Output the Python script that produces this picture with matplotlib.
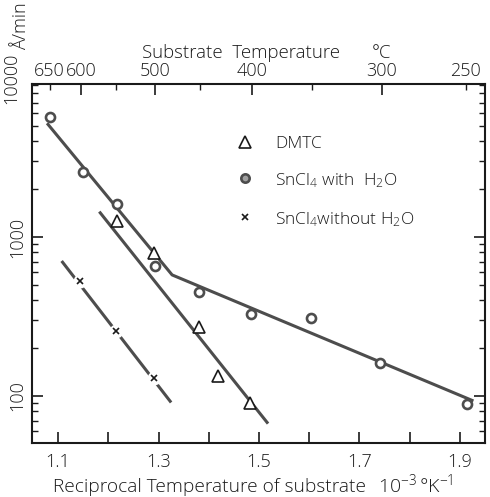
import matplotlib
matplotlib.use("Agg")
import matplotlib.pyplot as plt
import matplotlib.transforms as mtransforms
from matplotlib.ticker import FixedLocator, FixedFormatter, LogLocator, NullFormatter

plt.rcParams["font.family"] = ["Open Sans", "DejaVu Sans"]
plt.rcParams["font.weight"] = "light"
plt.rcParams["mathtext.fontset"] = "custom"
plt.rcParams["mathtext.rm"] = "Open Sans:light"
plt.rcParams["mathtext.it"] = "Open Sans:light:italic"

# ---- measured deposition rates (Å/min) vs 1000/T (K^-1) ----
dmtc_x = [1.217, 1.291, 1.381, 1.419, 1.482]
dmtc_y = [1266, 796, 270, 134, 90]

wet_x = [1.084, 1.149, 1.218, 1.292, 1.381, 1.485, 1.604, 1.741, 1.914]
wet_y = [5720, 2575, 1612, 660, 451, 328, 308, 161, 89]

dry_x = [1.144, 1.216, 1.290]
dry_y = [528, 257, 129]

# ---- fitted lines ----
dmtc_fit_x = [1.182, 1.518]
dmtc_fit_y = [1443, 67]
wet_fit_x = [1.078, 1.327, 1.927]
wet_fit_y = [5190, 577, 93]
dry_fit_x = [1.107, 1.325]
dry_fit_y = [706, 91]

# ---- axis ticks ----
recip_major = [1.1, 1.2, 1.3, 1.4, 1.5, 1.6, 1.7, 1.8, 1.9]
recip_labels = ["1.1", "", "1.3", "", "1.5", "", "1.7", "", "1.9"]
temp_major = [600, 500, 400, 300]
temp_minor = [650, 550, 450, 350, 250]
temp_minor_labels = ["650", "", "", "", "250"]

W, H = 490, 497
FS = 12.5       # legend
FS_TICK = 13
FS_LABEL = 13.6
ink = "#1a1a1a"
line_c = "#4d4d4d"

fig = plt.figure(figsize=(W / 100, H / 100), dpi=100)
ax = fig.add_axes([32 / W, 54 / H, 453 / W, 359 / H])


def recip(t_c):
    return 1000.0 / (t_c + 273.15)


ax.set_yscale("log")
ax.set_xlim(1.048, 1.950)
ax.set_ylim(50.6, 9160)

# fitted lines
ax.plot(wet_fit_x, wet_fit_y, color=line_c, lw=2.2, solid_capstyle="butt", zorder=2)
ax.plot(dmtc_fit_x, dmtc_fit_y, color=line_c, lw=2.2, solid_capstyle="butt", zorder=2)
ax.plot(dry_fit_x, dry_fit_y, color=line_c, lw=2.2, solid_capstyle="butt", zorder=2)

# gaps in the dry-SnCl4 line around its points
ax.plot(dry_x, dry_y, ls="none", marker="o", ms=10, mfc="white", mec="none", zorder=3)

# data points
ax.plot(wet_x, wet_y, ls="none", marker="o", ms=6.5, mfc="white", mec=line_c, mew=1.9, zorder=4)
ax.plot(dmtc_x, dmtc_y, ls="none", marker="^", ms=9, mfc="white", mec=ink, mew=1.2, zorder=4)
ax.plot(dry_x, dry_y, ls="none", marker="x", ms=4, mec=ink, mew=1.2, zorder=4)

# legend entries
legend_rows = [
    ("^", dict(ms=9, mfc="white", mec=ink, mew=1.2), "DMTC", 0.838),
    ("o", dict(ms=6, mfc="#a0a0a0", mec=line_c, mew=1.9), r"SnCl$_4$ with  H$_2$O", 0.738),
    ("x", dict(ms=4, mec=ink, mew=1.2), r"SnCl$_4$without H$_2$O", 0.630),
]
for mk, kw, label, yy in legend_rows:
    ax.plot([0.470], [yy], marker=mk, ls="none", transform=ax.transAxes, clip_on=False, **kw)
    ax.text(0.536, yy, label, transform=ax.transAxes, fontsize=FS, color=ink,
            va="center_baseline", ha="left")

# spines and ticks
for sp in ax.spines.values():
    sp.set_linewidth(1.5)
    sp.set_color(ink)

ax.xaxis.set_major_locator(FixedLocator(recip_major))
ax.xaxis.set_major_formatter(FixedFormatter(recip_labels))
ax.yaxis.set_major_locator(FixedLocator([100, 1000]))
ax.yaxis.set_major_formatter(FixedFormatter(["100", "1000"]))
ax.yaxis.set_minor_locator(LogLocator(base=10, subs=range(2, 10)))
ax.yaxis.set_minor_formatter(NullFormatter())

ax.tick_params(axis="x", which="major", direction="in", length=8, width=1.2,
               labelsize=FS_TICK, pad=7, colors=ink, top=False)
ax.tick_params(axis="y", which="major", direction="in", length=8, width=1.2,
               labelsize=FS_TICK, pad=4, colors=ink, right=True)
ax.tick_params(axis="y", which="minor", direction="in", length=4, width=1.0,
               colors=ink, right=True)
for lbl in ax.get_yticklabels():
    lbl.set_rotation(90)
    lbl.set_va("center")

# the 10000 mark sits just above the frame
trans = mtransforms.blended_transform_factory(ax.transAxes, ax.transData)
ax.text(-0.026, 10000, "10000", transform=trans, rotation=90, fontsize=FS_TICK,
        color=ink, ha="right", va="center", clip_on=False)
fig.text(21 / W, 1 - 26 / H, "Å/min", rotation=90, fontsize=FS_TICK, color=ink,
         ha="center", va="center")

# top axis: substrate temperature
ax2 = ax.twiny()
ax2.set_xlim(ax.get_xlim())
ax2.xaxis.set_major_locator(FixedLocator([recip(t) for t in temp_major]))
ax2.xaxis.set_major_formatter(FixedFormatter([str(t) for t in temp_major]))
ax2.xaxis.set_minor_locator(FixedLocator([recip(t) for t in temp_minor]))
ax2.xaxis.set_minor_formatter(FixedFormatter(temp_minor_labels))
ax2.tick_params(axis="x", which="major", direction="in", length=8, width=1.2,
                labelsize=FS_TICK, pad=3, colors=ink)
ax2.tick_params(axis="x", which="minor", direction="in", length=4, width=1.0,
                labelsize=FS_TICK, pad=3, colors=ink)
for sp in ax2.spines.values():
    sp.set_visible(False)

fig.text(142 / W, 1 - 58 / H, "Substrate  Temperature", fontsize=13.4, color=ink,
         ha="left", va="baseline")
fig.text(372 / W, 1 - 58 / H, "°C", fontsize=13.4, color=ink, ha="left", va="baseline")

fig.text(53 / W, 1 - 492 / H, "Reciprocal Temperature of substrate", fontsize=FS_LABEL + 0.2,
         color=ink, ha="left", va="baseline")
fig.text(378 / W, 1 - 492 / H, r"$10^{-3}\,$°K$^{-1}$", fontsize=FS_LABEL + 0.4, color=ink,
         ha="left", va="baseline")

fig.savefig("out.png", dpi=100)
